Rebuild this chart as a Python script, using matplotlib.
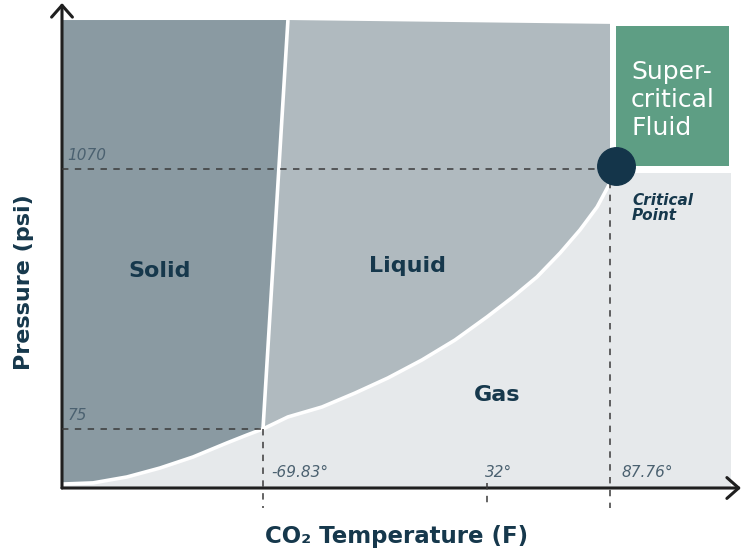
import numpy as np
import matplotlib
matplotlib.use("Agg")
import matplotlib.pyplot as plt
from matplotlib import transforms

# puntos clave (F, psi)
triple_t, triple_p = -69.83, 75
critico_t, critico_p = 87.76, 1070
hielo_t = 32

# curva de sublimacion
sub_t = [-160.7, -147.0, -131.6, -116.6, -101.6, -86.2, -77.1, -69.83]
sub_p = [42.7, 43.2, 45.9, 50.3, 56.3, 65.0, 70.5, 75]

# curva de vaporizacion
vap_t = [-69.83, -58.5, -43.0, -28.0, -13.1, 2.4, 17.4, 31.9, 43.7, 54.6,
         65.1, 74.1, 81.9, 87.76, 87.76]
vap_p = [75, 84.8, 93.9, 108.3, 126.3, 151.9, 186.3, 235.8, 289.3, 354.9,
         453.5, 573.6, 725.9, 927.9, 1070]

# linea de fusion (triple -> arriba)
fus_t = [-69.83, -58.5]
fus_p = [75, 4912]

etiquetas_x = ["-69.83°", "32°", "87.76°"]
etiquetas_y = ["1070", "75"]

# limites del diagrama
x_min, x_max = -161.1, 147.25
y_min, y_max = 41.0, 5846
t_der = 142.7
p_gas_top = 1028
p_liq_top = 4721
sc_t = (90.5, 141.9)
sc_p = (1104, 4628)
p_bajo = 33.4

c_solido = "#8a9aa2"
c_liquido = "#b0babf"
c_gas = "#e6e9eb"
c_super = "#5e9e84"
c_oscuro = "#16384c"
c_tick = "#4b6170"
c_linea = "#3a3a3a"

plt.rcParams["font.family"] = ["DejaVu Sans"]

fig = plt.figure(figsize=(7.41, 5.53), dpi=100)
ax = fig.add_axes([62 / 741, 65 / 553, 679 / 741, 485 / 553])
ax.set_yscale("log")
ax.set_xlim(x_min, x_max)
ax.set_ylim(y_min, y_max)
ax.axis("off")

# gas
ax.fill([x_min, t_der, t_der, x_min], [y_min, y_min, p_gas_top, p_gas_top],
        color=c_gas, lw=0, zorder=1)

# solido
st = [x_min, fus_t[1]] + fus_t[::-1][1:] + sub_t[::-1]
sp = [fus_p[1], fus_p[1]] + fus_p[::-1][1:] + sub_p[::-1]
ax.fill(st + [x_min], sp + [sub_p[0]], color=c_solido, lw=0, zorder=2)

# liquido
lt = fus_t + [critico_t] + vap_t[::-1]
lp = fus_p + [p_liq_top] + vap_p[::-1]
ax.fill(lt, lp, color=c_liquido, lw=0, zorder=2)

# supercritico
ax.fill([sc_t[0], sc_t[1], sc_t[1], sc_t[0]], [sc_p[0], sc_p[0], sc_p[1], sc_p[1]],
        color=c_super, lw=0, zorder=2)

# fronteras blancas
borde = dict(color="white", lw=2.6, zorder=3, solid_capstyle="butt", solid_joinstyle="round")
ax.plot(sub_t, sub_p, **borde)
ax.plot(vap_t, vap_p, **borde)
ax.plot(fus_t, fus_p, **borde)

# lineas punteadas
dash = dict(color=c_linea, lw=1.1, dashes=(4.2, 4.2), zorder=4, clip_on=False)
ax.plot([x_min, critico_t], [critico_p, critico_p], **dash)
ax.plot([x_min, triple_t], [triple_p, triple_p], **dash)
ax.plot([triple_t, triple_t], [triple_p, p_bajo], **dash)
ax.plot([critico_t, critico_t], [critico_p, p_bajo], **dash)
ax.plot([hielo_t, hielo_t], [sub_p[1], p_bajo], **dash)

# punto critico
off = transforms.offset_copy(ax.transData, fig=fig, x=4, y=2, units="points")
ax.plot([critico_t], [critico_p], "o", ms=27, color="#14354a", transform=off,
        zorder=6, clip_on=False)

# ejes con flechas
flecha = dict(arrowstyle="->,head_length=0.85,head_width=0.75", lw=2.2,
              color="#1f1f1f", shrinkA=0, shrinkB=0)
ax.annotate("", xy=(0, 1), xytext=(0, 0), xycoords="axes fraction", arrowprops=flecha)
ax.annotate("", xy=(1, 0), xytext=(0, 0), xycoords="axes fraction", arrowprops=flecha)

# etiquetas de valores
tick_kw = dict(color=c_tick, fontsize=11, style="italic", fontweight="light",
               textcoords="offset points", zorder=7)
ax.annotate(etiquetas_y[0], (x_min, critico_p), xytext=(4, 4), va="bottom", ha="left", **tick_kw)
ax.annotate(etiquetas_y[1], (x_min, triple_p), xytext=(4, 4), va="bottom", ha="left", **tick_kw)
ax.annotate(etiquetas_x[0], (triple_t, y_min), xytext=(6, 6), va="bottom", ha="left", **tick_kw)
ax.annotate(etiquetas_x[1], (hielo_t, y_min), xytext=(8, 6), va="bottom", ha="center", **tick_kw)
ax.annotate(etiquetas_x[2], (critico_t, y_min), xytext=(8, 6), va="bottom", ha="left", **tick_kw)

# nombres de fases
fase_kw = dict(color=c_oscuro, fontsize=16, fontweight="bold", ha="center", va="center", zorder=7)
ax.text(-116.6, 377, "Solid", **fase_kw)
ax.text(-4.0, 397, "Liquid", **fase_kw)
ax.text(36.4, 106, "Gas", **fase_kw)

ax.text(97.3, 2168, "Super-\ncritical\nFluid", color="white", fontsize=18,
        fontweight="medium", ha="left", va="center", linespacing=1.2, zorder=7)
ax.text(97.8, 718, "Critical\nPoint", color=c_oscuro, fontsize=11,
        fontweight="bold", style="italic", ha="left", va="center", linespacing=0.95, zorder=7)

fig.text(24 / 741, 1 - 282 / 553, "Pressure (psi)", rotation=90, color=c_oscuro,
         fontsize=16, fontweight="bold", ha="center", va="center")
fig.text(397 / 741, 1 - 537 / 553, "CO₂ Temperature (F)", color=c_oscuro,
         fontsize=16.5, fontweight="bold", ha="center", va="center")

fig.savefig("out.png", dpi=100)
